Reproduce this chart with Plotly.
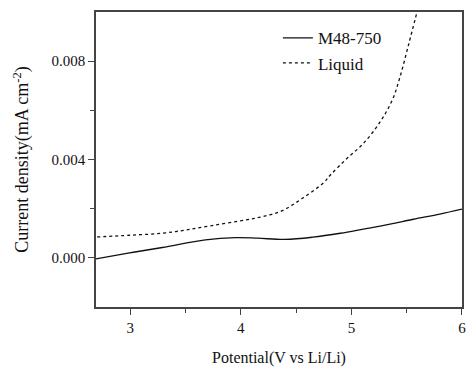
import plotly.graph_objects as go

m48_x = [2.69, 2.98, 3.29, 3.68, 3.95, 4.15, 4.40, 4.65, 4.90, 5.11, 5.35, 5.56, 5.80, 6.0]
m48_y = [-0.00004, 0.00019, 0.00042, 0.00073, 0.00082, 0.00080, 0.00075, 0.00084, 0.00100, 0.00117, 0.00137, 0.00157, 0.00178, 0.00198]

liq_x = [2.70, 3.0, 3.29, 3.50, 3.74, 4.04, 4.20, 4.37, 4.55, 4.75, 4.81, 4.95, 5.11, 5.26, 5.37, 5.44, 5.52, 5.59]
liq_y = [0.00085, 0.00092, 0.00100, 0.00113, 0.00131, 0.00154, 0.00168, 0.00191, 0.00240, 0.00306, 0.00337, 0.00400, 0.00466, 0.00553, 0.00642, 0.00736, 0.00872, 0.00994]

fig = go.Figure()
fig.add_trace(go.Scatter(x=m48_x, y=m48_y, mode="lines", name="M48-750",
                         line=dict(color="#111111", width=1.3, shape="spline")))
fig.add_trace(go.Scatter(x=liq_x, y=liq_y, mode="lines", name="Liquid",
                         line=dict(color="#111111", width=1.3, dash="3px,3px", shape="spline")))

font = dict(family="Liberation Serif, Times New Roman, serif", color="#111111")
fig.update_layout(
    width=466, height=367,
    margin=dict(l=96, r=4, t=12, b=60, autoexpand=False),
    plot_bgcolor="white", paper_bgcolor="white",
    font=dict(size=15, **font),
    showlegend=True,
    legend=dict(x=0.497, y=0.972, xanchor="left", yanchor="top",
                bgcolor="rgba(0,0,0,0)", font=dict(size=17, **font),
                tracegroupgap=0, itemwidth=30),
    xaxis=dict(range=[2.69, 6.0005], tickvals=[3, 4, 5, 6], ticks="outside", ticklen=6,
               tickcolor="#444", showline=True, linecolor="#444", linewidth=1.5, mirror=True,
               showgrid=False, zeroline=False, automargin=False, ticklabeloverflow="allow",
               tickfont=dict(size=15, **font),
               minor=dict(tickvals=[3.5, 4.5, 5.5], ticks="outside", ticklen=4, tickcolor="#444"),
               title=dict(text="Potential(V vs Li/Li)", font=dict(size=16, **font), standoff=20)),
    yaxis=dict(range=[-0.002, 0.010], tickvals=[0.0, 0.004, 0.008],
               ticktext=["0.000", "0.004", "0.008"], ticks="outside", ticklen=6,
               tickcolor="#444", showline=True, linecolor="#444", linewidth=1.5, mirror=True,
               showgrid=False, zeroline=False, automargin=False,
               tickfont=dict(size=15, **font),
               minor=dict(tickvals=[0.002, 0.006], ticks="outside", ticklen=4, tickcolor="#444"),
               title=dict(text="Current density(mA cm<sup>-2</sup>)", font=dict(size=18, **font), standoff=18)),
)
fig.write_html("out.html", config={"displayModeBar": False},
               post_script="document.body.style.margin='0';document.body.style.overflow='hidden';")
